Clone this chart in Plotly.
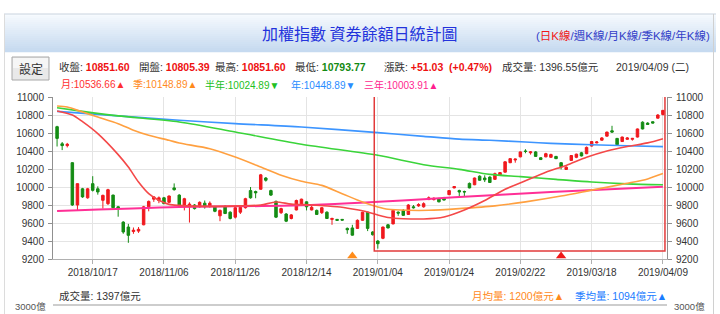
import plotly.graph_objects as go

# ---------------- data ----------------
tick_day = [7, 21, 35, 49, 63, 77, 91, 105, 119]
tick_label = ["2018/10/17", "2018/11/06", "2018/11/26", "2018/12/14", "2019/01/04",
              "2019/01/24", "2019/02/22", "2019/03/18", "2019/04/09"]
y_ticks = [9200, 9400, 9600, 9800, 10000, 10200, 10400, 10600, 10800, 11000]
y_tick_label = ["9200", "9400", "9600", "9800", "10000", "10200", "10400", "10600", "10800", "11000"]

k_open = [10670, 10480, 10460, 10270, 9800, 9980, 9880, 10037, 9980, 9852,
          9815, 9910, 9780, 9610, 9555, 9505, 9510, 9580, 9780, 9865,
          9850, 9880, 9830, 9990, 9910, 9780, 9780, 9800, 9780, 9820,
          9785, 9780, 9680, 9780, 9720, 9665, 9720, 9770, 9960, 9950,
          9975, 10100, 9960, 9840, 9715, 9700, 9650, 9745, 9805, 9835,
          9745, 9740, 9715, 9720, 9640, 9640, 9640, 9540, 9545, 9540,
          9630, 9720, 9500, 9400, 9430, 9580, 9590, 9720, 9740, 9695,
          9780, 9790, 9780, 9860, 9860, 9870, 9875, 9915, 9990, 9960,
          9950, 10040, 10025, 10120, 10100, 10110, 10085, 10130, 10165, 10270,
          10300, 10335, 10400, 10380, 10390, 10325, 10335, 10330, 10340, 10270,
          10195, 10295, 10330, 10380, 10370, 10455, 10490, 10520, 10565, 10625,
          10540, 10505, 10530, 10530, 10555, 10720, 10710, 10725, 10765, 10805.39]
k_high = [10680, 10500, 10490, 10275, 10040, 9990, 9990, 10120, 10007, 9915,
          9980, 9915, 9790, 9620, 9590, 9550, 9555, 9790, 9850, 9900,
          9895, 9890, 9905, 10040, 9920, 9880, 9830, 9810, 9840, 9850,
          9840, 9790, 9750, 9800, 9730, 9780, 9790, 9880, 10000, 9960,
          10145, 10110, 9970, 9850, 9770, 9710, 9700, 9860, 9870, 9840,
          9790, 9750, 9775, 9730, 9660, 9645, 9645, 9550, 9580, 9640,
          9725, 9725, 9510, 9410, 9560, 9590, 9745, 9730, 9755, 9810,
          9800, 9820, 9830, 9895, 9885, 9880, 9890, 9965, 10010, 9970,
          9960, 10050, 10105, 10130, 10130, 10120, 10160, 10165, 10285, 10320,
          10315, 10395, 10420, 10400, 10400, 10330, 10380, 10370, 10345, 10275,
          10230, 10355, 10370, 10390, 10450, 10510, 10510, 10555, 10615, 10680,
          10545, 10560, 10555, 10545, 10650, 10730, 10720, 10730, 10810, 10851.60]
k_low = [10450, 10410, 10440, 9790, 9740, 9880, 9870, 9950, 9915, 9760,
         9800, 9765, 9670, 9480, 9380, 9480, 9490, 9575, 9730, 9835,
         9820, 9810, 9820, 9960, 9795, 9740, 9605, 9750, 9770, 9760,
         9770, 9720, 9620, 9700, 9640, 9650, 9700, 9760, 9870, 9875,
         9970, 10060, 9900, 9655, 9700, 9610, 9640, 9740, 9800, 9740,
         9740, 9690, 9700, 9645, 9580, 9625, 9628, 9480, 9460, 9535,
         9625, 9510, 9460, 9315, 9420, 9540, 9585, 9680, 9680, 9690,
         9760, 9780, 9770, 9855, 9850, 9830, 9850, 9910, 9985, 9890,
         9900, 9985, 10020, 10070, 10055, 10045, 10080, 10125, 10160, 10265,
         10270, 10330, 10375, 10360, 10335, 10300, 10330, 10325, 10310, 10195,
         10190, 10290, 10320, 10340, 10365, 10450, 10485, 10515, 10560, 10600,
         10460, 10500, 10525, 10515, 10550, 10640, 10690, 10705, 10760, 10793.77]
k_close = [10540, 10460, 10475, 9800, 10037, 9890, 9980, 9963, 9945, 9907,
           9970, 9770, 9760, 9500, 9463, 9520, 9530, 9780, 9840, 9890,
           9880, 9815, 9900, 9970, 9800, 9870, 9810, 9760, 9830, 9780,
           9820, 9730, 9740, 9705, 9650, 9770, 9775, 9870, 9880, 9935,
           10135, 10075, 9910, 9665, 9760, 9620, 9690, 9850, 9865, 9780,
           9775, 9695, 9770, 9650, 9650, 9630, 9632, 9525, 9465, 9630,
           9720, 9540, 9470, 9370, 9555, 9545, 9740, 9710, 9685, 9800,
           9770, 9805, 9815, 9880, 9875, 9835, 9855, 9960, 10005, 9945,
           9945, 9990, 10100, 10075, 10080, 10050, 10148, 10160, 10280, 10315,
           10310, 10390, 10395, 10390, 10340, 10305, 10370, 10360, 10315, 10225,
           10220, 10350, 10365, 10345, 10440, 10505, 10500, 10545, 10610, 10610,
           10470, 10555, 10545, 10540, 10645, 10645, 10695, 10710, 10800, 10851.60]
day = list(range(len(k_close)))

# moving averages (day index, value)
ma_month_day = [0, 3, 5, 8, 12, 14, 16, 18, 20, 22, 24, 30, 36, 40, 43, 46, 50, 55, 58, 61,
                63, 65, 68, 72, 76, 80, 84, 88, 92, 96, 100, 104, 108, 112, 116, 119]
ma_month_val = [10845, 10800, 10726, 10593, 10360, 10222, 10055, 9926, 9852, 9807, 9796, 9785,
                9790, 9800, 9833, 9810, 9800, 9780, 9755, 9722, 9690, 9662, 9648, 9645, 9667,
                9745, 9850, 9975, 10070, 10165, 10240, 10330, 10400, 10450, 10490, 10537]
ma_season_day = [0, 2, 5, 8, 12, 15, 18, 22, 24, 30, 35, 40, 44, 48, 52, 56, 60, 63, 65, 69,
                 73, 79, 86, 92, 99, 105, 112, 116, 119]
ma_season_val = [10900, 10889, 10833, 10778, 10704, 10630, 10574, 10519, 10489, 10426, 10333,
                 10222, 10130, 10063, 10018, 9926, 9833, 9778, 9752, 9741, 9741, 9760, 9790,
                 9835, 9900, 9965, 10041, 10090, 10149]
ma_half_day = [0, 5, 12, 24, 35, 48, 63, 72, 79, 85, 91, 98, 105, 112, 119]
ma_half_val = [10880, 10840, 10790, 10722, 10611, 10475, 10352, 10248, 10196, 10140, 10115,
               10085, 10055, 10035, 10025]
ma_year_day = [0, 12, 24, 35, 48, 63, 72, 79, 85, 92, 97, 105, 112, 119]
ma_year_val = [10840, 10790, 10741, 10704, 10667, 10604, 10563, 10532, 10519, 10500, 10485,
               10470, 10458, 10449]
ma_3y_day = [0, 24, 48, 72, 79, 97, 119]
ma_3y_val = [9733, 9778, 9796, 9863, 9888, 9944, 10004]

mark_day = [58, 99]
mark_val = [9233, 9233]
mark_color = ["#ff8c1a", "#f01818"]

# ---------------- geometry helpers ----------------
L, R, T, B = 53, 667, 97, 259
W, H = 720, 314


def PX(x):
    return (x - L) / (R - L)


def PY(y):
    return (B - y) / (B - T)


UP = "#f0191e"
DN = "#148c14"
LAT = "Liberation Sans, Arial, Noto Sans CJK TC, sans-serif"
CJK = "Noto Sans CJK TC, sans-serif"

fig = go.Figure()

fig.add_trace(go.Candlestick(
    x=day, open=k_open, high=k_high, low=k_low, close=k_close,
    increasing=dict(line=dict(color=UP, width=1), fillcolor=UP),
    decreasing=dict(line=dict(color=DN, width=1), fillcolor=DN),
    whiskerwidth=0, showlegend=False, hoverinfo="skip"))

for dx, dv, col, w in [
    (ma_3y_day, ma_3y_val, "#ff2f96", 2.0),
    (ma_year_day, ma_year_val, "#3d95ff", 1.6),
    (ma_half_day, ma_half_val, "#3ad43a", 1.6),
    (ma_season_day, ma_season_val, "#ffa040", 1.6),
    (ma_month_day, ma_month_val, "#f44848", 1.6),
]:
    fig.add_trace(go.Scatter(x=dx, y=dv, mode="lines",
                             line=dict(color=col, width=w, shape="spline", smoothing=0.8),
                             showlegend=False, hoverinfo="skip"))

fig.add_trace(go.Scatter(x=mark_day, y=mark_val, mode="markers", yaxis="y2",
                         marker=dict(symbol="triangle-up", size=9, color=mark_color),
                         showlegend=False, hoverinfo="skip", cliponaxis=False))

shapes = []
# header gradient bar
n = 19
y0, y1 = 14, 52
c_top = (246, 250, 254)
c_bot = (198, 218, 240)
for i in range(n):
    f = i / (n - 1)
    c = tuple(int(c_top[k] + (c_bot[k] - c_top[k]) * f) for k in range(3))
    ya = y0 + (y1 - y0) * i / n
    yb = y0 + (y1 - y0) * (i + 1) / n
    shapes.append(dict(type="rect", xref="paper", yref="paper", x0=PX(4), x1=PX(716),
                       y0=PY(yb + 0.3), y1=PY(ya), fillcolor="rgb(%d,%d,%d)" % c,
                       line=dict(width=0), layer="below"))
shapes.append(dict(type="line", xref="paper", yref="paper", x0=PX(4), x1=PX(716),
                   y0=PY(14), y1=PY(14), line=dict(color="#c9d3de", width=1)))
# side borders
shapes.append(dict(type="line", xref="paper", yref="paper", x0=PX(4.5), x1=PX(4.5),
                   y0=PY(14), y1=PY(H + 5), line=dict(color="#dcdcdc", width=1)))
shapes.append(dict(type="line", xref="paper", yref="paper", x0=PX(713.5), x1=PX(713.5),
                   y0=PY(14), y1=PY(H + 5), line=dict(color="#d0d0d0", width=1)))
# settings button
shapes.append(dict(type="rect", xref="paper", yref="paper", x0=PX(12), x1=PX(49),
                   y0=PY(80), y1=PY(57), fillcolor="#e9e9e9",
                   line=dict(color="#a8a8a8", width=1)))
shapes.append(dict(type="rect", xref="paper", yref="paper", x0=PX(13), x1=PX(48),
                   y0=PY(68), y1=PY(58), fillcolor="#f6f6f6", line=dict(width=0)))
# red highlight box
shapes.append(dict(type="rect", xref="x", yref="y", x0=62.3, x1=119.4, y0=9290, y1=11008,
                   line=dict(color="#e23b3b", width=1.5), layer="above"))
# volume panel top line
shapes.append(dict(type="line", xref="paper", yref="paper", x0=0, x1=1,
                   y0=PY(305), y1=PY(305), line=dict(color="#bdbdbd", width=1.5)))

ann = []


def txt(x, y, s, size=11, color="#333333", anchor="left", family=LAT):
    ann.append(dict(xref="paper", yref="paper", x=PX(x), y=PY(y), text=s, showarrow=False,
                    xanchor=anchor, yanchor="middle",
                    font=dict(family=family, size=size, color=color)))


txt(360, 33, "加權指數 資券餘額日統計圖", size=16, color="#2333dc", anchor="center", family=CJK)
lk = "#3440c8"
txt(712, 35, "(<span style='color:#f01818'>日K線</span>/週K線/月K線/季K線/年K線)",
    size=11.5, color=lk, anchor="right")

txt(30.5, 68.5, "設定", size=12, color="#333333", anchor="center", family=CJK)
RED = "#ee1111"
GRN = "#138a13"
S1 = 10.5
txt(57, 67, "收盤: <b><span style='color:%s'>10851.60</span></b>" % RED, size=S1)
txt(137, 67, "開盤: <b><span style='color:%s'>10805.39</span></b>" % RED, size=S1)
txt(213, 67, "最高: <b><span style='color:%s'>10851.60</span></b>" % RED, size=S1)
txt(293, 67, "最低: <b><span style='color:%s'>10793.77</span></b>" % GRN, size=S1)
txt(382, 67, "漲跌: <b><span style='color:%s'>+51.03\u00a0\u00a0(+0.47%%)</span></b>" % RED, size=S1)
txt(500, 67, "成交量: 1396.55億元", size=S1)
txt(614, 67, "2019/04/09 (二)", size=S1)

S2 = 10
txt(59, 85, "月:10536.66▲", size=S2, color="#ff3030")
txt(131, 85, "季:10148.89▲", size=S2, color="#ff8a1c")
txt(203, 85, "半年:10024.89▼", size=S2, color="#22c022")
txt(289, 85, "年:10448.89▼", size=S2, color="#2a8cff")
txt(362, 85, "三年:10003.91▲", size=S2, color="#ff1f8f")

txt(57, 296, "成交量: 1397億元", size=S1)
txt(470, 296, "月均量: 1200億元▲", size=S1, color="#ff8a1c")
txt(573, 296, "季均量: 1094億元▲", size=S1, color="#1a7cff")
txt(48, 306, "3000億", size=9.5, color="#555555", anchor="right")
txt(672, 306, "3000億", size=9.5, color="#555555")

axfont = dict(family=LAT, size=10, color="#333333")
fig.update_layout(
    width=W, height=H, margin=dict(l=L, r=W - R, t=T, b=H - B, pad=0),
    paper_bgcolor="white", plot_bgcolor="white", showlegend=False,
    xaxis=dict(range=[-0.8, 119.8], tickvals=tick_day, ticktext=tick_label,
               showgrid=True, gridcolor="#e4e4e4", gridwidth=1, zeroline=False,
               showline=True, linecolor="#b0b0b0", linewidth=1,
               ticks="outside", ticklen=4, tickcolor="#b0b0b0",
               tickfont=axfont, rangeslider=dict(visible=False), fixedrange=True),
    yaxis=dict(range=[9200, 11000], tickvals=y_ticks, ticktext=y_tick_label,
               showgrid=True, gridcolor="#e4e4e4",
               zeroline=False, showline=True, linecolor="#909090", linewidth=1,
               ticks="outside", ticklen=4, tickcolor="#909090", tickfont=axfont,
               ticklabelstandoff=2),
    yaxis2=dict(range=[9200, 11000], tickvals=y_ticks, ticktext=y_tick_label,
                overlaying="y", side="right",
                showgrid=False, zeroline=False, showline=True, linecolor="#909090",
                linewidth=1, ticks="outside", ticklen=4, tickcolor="#909090",
                tickfont=axfont, ticklabelstandoff=2),
    shapes=shapes, annotations=ann,
)

fig.write_html("out.html")
